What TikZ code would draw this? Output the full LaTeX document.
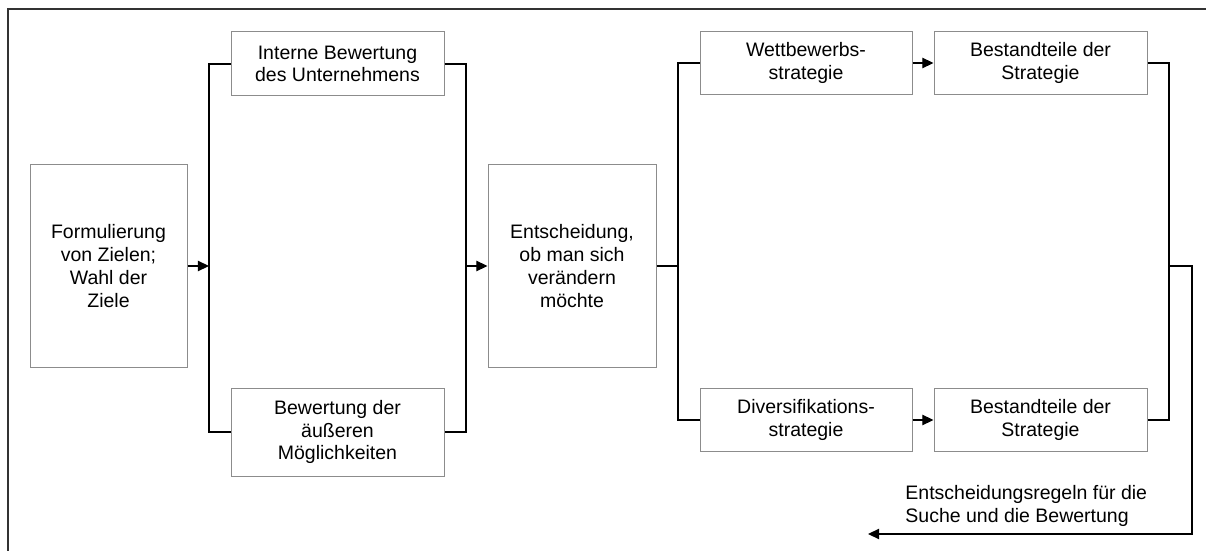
\documentclass[tikz,border=0pt]{standalone}
\usepackage{fontspec}
\setmainfont{Liberation Sans}
\usetikzlibrary{arrows.meta}

\tikzset{
  box/.style={draw=black!45, line width=0.5pt, fill=white, align=center,
    inner sep=0pt, font=\fontsize{9.75pt}{11.35pt}\selectfont},
  link/.style={line width=0.65pt},
  arr/.style={link, -{Triangle[length=5.6pt,width=5.2pt]}}
}

\begin{document}
\begin{tikzpicture}[x=0.5pt,y=-0.5pt]

    \useasboundingbox (0,0) rectangle (1206,551);

    % Frame
    \draw[line width=0.65pt, black!80] (8,551) -- (8,9) -- (1206,9);

    %% Goals and evaluation

    % Goals
    \node[box, minimum width=78.5pt, minimum height=101pt] (ziele) at (108.5,266)
        {Formulierung\\von Zielen;\\Wahl der\\Ziele};

    % Internal and external evaluation
    \node[box, minimum width=106.5pt, minimum height=32pt] (intern) at (337.5,64)
        {Interne Bewertung\\des Unternehmens};
    \node[box, minimum width=106.5pt, minimum height=44pt] (extern) at (337.5,432)
        {Bewertung der\\äußeren\\Möglichkeiten};

    % Decision
    \node[box, minimum width=84pt, minimum height=101pt] (entsch) at (572,266)
        {Entscheidung,\\ob man sich\\verändern\\möchte};

    %% Strategies

    \node[box, minimum width=106pt, minimum height=31.5pt] (wettb) at (806,63)
        {Wettbewerbs-\\strategie};
    \node[box, minimum width=106.5pt, minimum height=31.5pt] (best1) at (1040.5,63)
        {Bestandteile der\\Strategie};
    \node[box, minimum width=106pt, minimum height=31.5pt] (divers) at (806,420)
        {Diversifikations-\\strategie};
    \node[box, minimum width=106.5pt, minimum height=31.5pt] (best2) at (1040.5,420)
        {Bestandteile der\\Strategie};

    % Feedback rules
    \node[font=\fontsize{9.75pt}{11.35pt}\selectfont, align=left, anchor=west, inner sep=0pt]
        (regeln) at (905,506) {Entscheidungsregeln für die\\Suche und die Bewertung};

    %% Connectors
    \coordinate (fork1) at (209,266);
    \coordinate (join1) at (466,266);
    \coordinate (fork2) at (678,266);
    \coordinate (join2) at (1169,266);
    \coordinate (turn) at (1192,266);
    \coordinate (back) at (868,534);

    \draw[arr] (ziele) -- (fork1);
    \draw[link] (intern.west) -| (fork1) |- (extern.west);
    \draw[link] (intern.east) -| (join1) |- (extern.east);
    \draw[arr] (join1) -- (entsch);

    \draw[link] (entsch) -- (fork2);
    \draw[link] (wettb.west) -| (fork2) |- (divers.west);
    \draw[arr] (wettb) -- (best1);
    \draw[arr] (divers) -- (best2);

    \draw[link] (best1.east) -| (join2) |- (best2.east);
    \draw[arr] (join2) -- (turn) |- (back);

\end{tikzpicture}
\end{document}
